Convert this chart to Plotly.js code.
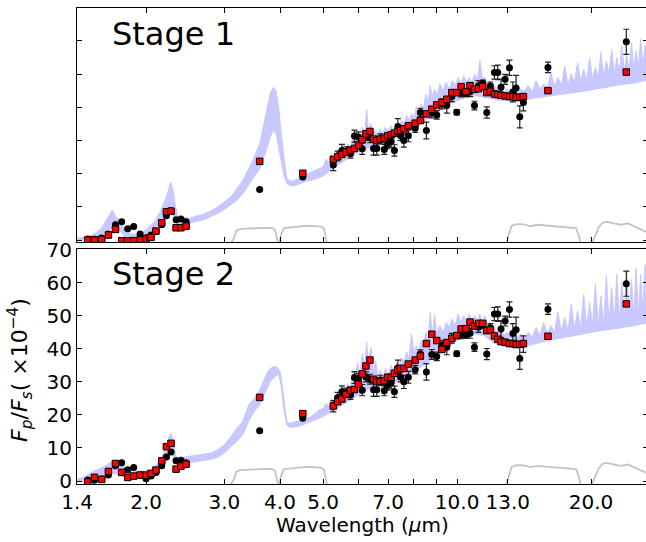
<!DOCTYPE html>
<html>
<head>
<meta charset="utf-8">
<script src="https://cdn.plot.ly/plotly-3.0.1.min.js"></script>
<style>html,body{margin:0;padding:0;overflow:hidden;background:#fff}#chart{width:648px;height:542px}</style>
</head>
<body>
<div id="chart"></div>
<script>
// ---------- observed / binned points ----------
const wave = [1.479,1.531,1.590,1.646,1.707,1.763,1.819,1.876,1.939,2.000,2.052,2.105,2.169,2.222,2.276,2.336,2.396,2.460,
  3.6,4.5,
  5.27,5.39,5.51,5.63,5.76,5.88,6.00,6.12,6.24,6.37,6.49,6.60,6.72,6.86,6.98,7.11,7.23,7.36,7.46,7.59,7.77,8.05,8.27,8.53,8.77,9.00,9.24,9.48,9.73,9.98,10.21,10.47,10.69,10.94,11.17,11.42,11.66,11.88,12.13,12.34,12.55,12.82,13.11,13.34,13.57,13.83,14.09,
  16.0,24.0];
const observed = [0.3,0.2,0.6,1.8,4.6,5.5,3.4,4.1,1.8,0.7,1.5,2.6,4.6,7.3,8.8,6.1,6.3,5.5,
  15.2,19.0,
  22.6,25.3,27.0,26.8,26.0,31.3,31.0,27.5,31.5,30.8,27.6,27.6,30.5,27.3,29.0,29.7,27.0,34.2,31.5,30.0,31.4,33.7,38.4,33.0,38.3,37.7,41.0,40.5,43.2,38.5,44.3,44.2,44.7,40.5,46.5,47.2,38.4,46.4,50.5,50.5,46.0,48.4,51.9,44.6,45.8,37.1,41.4,
  52.0,59.7];
const observedErr = [0.2,0.2,0.2,0.2,0.2,0.2,0.2,0.2,0.2,0.2,0.2,0.2,0.2,0.2,0.2,0.2,0.2,0.2,
  0.3,0.3,
  1.7,1.5,1.8,1.3,1.3,1.8,1.6,1.7,1.5,1.5,2.0,2.0,1.5,1.5,1.5,1.8,1.7,2.4,1.5,2.0,1.8,1.3,1.3,2.5,1.5,1.3,1.5,2.3,1.5,0.8,1.2,1.0,1.5,1.3,1.5,1.0,1.7,1.2,2.0,2.2,2.5,1.5,2.3,3.0,3.8,3.3,2.5,
  1.6,3.8];
const stage1Binned = [0,0,0.2,1.5,3.2,-0.2,-0.3,-0.2,0.0,0.3,0.8,2.7,5.2,8.5,8.7,3.7,3.7,4.2,
  23.7,20.1,
  24.3,25.1,25.8,26.5,27.1,27.6,28.6,30.2,32.0,32.7,30.4,29.9,30.4,30.7,31.4,31.7,32.2,32.7,33.0,33.5,34.4,35.2,36.0,38.0,39.4,40.7,41.4,42.4,44.4,44.4,46.2,44.7,46.5,45.4,45.6,46.2,44.4,44.8,44.0,43.8,43.6,43.4,43.2,43.2,43.0,43.0,43.2,
  45.0,50.6];
const stage2Binned = [-0.3,1.1,0.5,2.9,5.3,2.6,1.1,1.5,1.8,1.8,2.3,3.3,6.1,10.4,11.4,3.6,4.5,5.1,
  25.3,20.4,
  22.7,24.0,24.8,26.2,27.5,27.7,29.3,32.4,34.8,36.6,30.8,30.1,30.1,30.4,31.4,31.4,32.6,33.6,34.0,34.1,35.4,36.6,37.8,41.6,44.4,42.5,39.8,41.9,43.2,44.0,46.0,46.1,48.1,46.9,47.7,47.7,45.5,45.7,43.9,42.9,42.2,42.0,41.6,41.6,41.3,41.4,41.6,
  43.8,53.6];

// ---------- model spectrum envelopes ----------
const nirWave = [1.40,1.45,1.50,1.55,1.59,1.62,1.65,1.68,1.71,1.74,1.77,1.80,1.85,1.90,1.95,2.00,2.05,2.10,2.15,2.20,2.24,2.27,2.30,2.33,2.36,2.40,2.45,2.50,2.60,2.70,2.80,2.90,3.00,3.10,3.20,3.30,3.40,3.50,3.60,3.68,3.75,3.80,3.86,3.92,3.97,4.02,4.08,4.14,4.20,4.30,4.40,4.50,4.60,4.70,4.80,4.90];
const s1NirLow = [0,0,0.2,0.6,1.5,2.5,3.2,3.5,3.5,3.0,2.0,0.8,0.3,0.5,1.0,1.6,2.8,3.8,5.0,6.5,8.0,9.0,8.0,5.5,4.0,4.5,4.8,5.0,5.6,6.2,7.0,8.0,9.2,10.5,12.0,14.0,16.5,19.0,21.5,25.0,28.0,31.0,33.0,32.0,28.0,24.0,19.5,17.0,16.5,16.3,16.8,17.5,17.8,18.0,18.3,18.8];
const s1NirHigh = [0.6,0.8,1.3,2.2,3.8,5.5,7.5,9.0,7.0,6.0,4.5,2.8,1.8,1.8,2.3,3.0,4.5,6.0,8.5,11.5,14.5,17.5,15.0,10.0,7.0,6.5,6.8,6.5,7.3,7.8,8.8,10.0,11.5,13.0,15.5,18.0,21.5,25.0,29.0,35.0,41.0,44.0,46.0,45.0,40.0,33.0,25.0,19.0,17.8,17.8,18.5,19.3,20.0,20.5,21.0,21.5];
const s2NirLow = [0,0,0.3,0.7,1.0,1.5,2.0,2.3,2.2,1.8,1.4,1.0,0.8,0.8,0.9,1.2,1.8,2.5,3.5,5.0,7.0,9.0,7.5,5.5,4.5,5.0,5.3,5.5,5.8,6.2,6.6,7.2,8.5,10.4,12.0,14.0,18.0,21.0,23.0,26.0,28.5,30.0,31.0,32.0,32.5,29.0,21.5,17.0,16.3,16.3,16.5,17.0,17.5,18.0,18.6,19.0];
const s2NirHigh = [0.5,1.2,2.5,3.3,4.0,4.6,5.3,6.0,5.8,5.5,4.8,3.5,3.0,3.0,3.0,3.0,3.6,4.5,6.5,9.0,12.5,14.5,12.5,8.0,7.0,7.0,7.3,7.5,7.8,8.2,8.5,9.5,11.0,13.4,16.0,18.0,23.0,25.0,27.5,30.5,33.0,34.0,34.6,34.6,34.0,32.0,24.0,18.0,17.5,17.8,18.0,18.5,19.0,19.5,20.5,21.5];

const midWave = [5.00,5.08,5.15,5.22,5.30,5.38,5.45,5.52,5.60,5.68,5.75,5.82,5.90,5.97,
  6.05,6.12,6.20,6.26,6.32,6.40,6.48,6.56,6.64,6.72,6.80,6.90,
  7.00,7.10,7.20,7.30,7.40,7.50,7.60,7.70,7.80,7.90,8.00,8.10,8.20,8.30,8.40,8.50,8.60,8.70,8.80,8.90,
  9.00,9.15,9.30,9.45,9.60,9.75,9.90,10.05,10.20,10.35,10.50,10.65,10.80,10.95,11.10,11.25,11.40,11.55,11.70,11.85,
  12.00,12.15,12.35,12.55,12.75,12.95,13.15,13.40,13.65,13.90,
  14.15,14.45,14.75,15.05,15.35,15.65,15.95,16.25,16.55,16.85,17.15,17.45,17.75,18.05,18.35,18.65,18.95,19.25,19.55,19.85,
  20.15,20.45,20.75,21.05,21.35,21.65,21.95,22.25,22.55,22.85,23.15,23.45,23.75,24.05,24.35,24.65,24.95,25.25,25.55,25.85,26.15,26.45,26.90];
const s1MidHigh = [22.0,24.5,23.0,26.0,24.5,27.0,25.5,28.0,26.5,29.0,27.5,30.5,29.0,32.0,
  30.0,34.0,32.0,39.5,33.0,35.0,31.5,33.0,31.5,33.5,32.0,34.0,
  32.5,34.5,33.0,35.0,34.0,36.0,35.0,37.5,36.0,38.0,37.0,40.0,38.0,41.0,39.5,44.0,41.5,46.5,43.0,45.5,
  43.5,47.0,45.0,47.5,45.5,48.0,46.5,49.0,47.0,49.5,47.5,49.0,47.5,50.0,48.0,54.0,48.5,49.0,47.0,47.5,
  45.5,46.5,45.0,46.0,44.5,45.5,44.5,45.5,44.5,45.5,
  44.8,46.5,44.6,48.0,45.5,47.0,45.8,50.5,46.2,49.0,46.5,52.5,46.8,50.0,47.5,53.5,47.8,51.5,48.0,55.0,
  48.5,52.0,49.0,56.5,49.2,54.0,49.8,57.5,50.0,55.0,50.5,58.5,50.8,56.0,51.0,59.5,51.5,57.0,52.0,60.5,52.5,58.5,54.0];
const s2MidHigh = [22.0,23.5,22.5,25.0,23.5,26.0,25.0,27.5,26.0,29.5,27.5,33.0,29.5,36.0,
  32.0,38.5,34.5,42.0,36.0,40.5,33.0,36.5,31.0,33.5,31.0,34.0,
  32.0,35.0,33.5,36.0,34.5,37.5,36.0,39.0,37.0,44.5,38.5,41.0,39.0,42.5,40.5,45.0,42.0,51.0,44.0,50.5,
  44.5,47.0,45.0,48.0,46.5,49.0,47.0,50.5,48.0,50.0,48.0,50.5,48.0,50.0,48.5,50.5,48.0,50.0,47.0,48.0,
  45.5,46.0,44.5,45.5,44.0,45.0,43.5,44.5,43.5,44.5,
  43.5,45.0,43.6,46.5,44.0,48.0,44.5,47.0,45.0,51.0,45.2,49.5,45.5,53.5,46.0,51.5,46.3,56.5,46.5,54.0,
  47.0,59.5,47.2,56.0,47.5,62.0,47.8,58.5,48.0,62.5,48.5,60.0,48.8,63.5,49.0,61.0,49.5,64.5,50.0,62.5,50.5,65.5,51.5];
const lowWave = [5.0,5.3,5.6,6.0,6.2,6.4,6.8,7.2,7.6,8.0,8.5,9.0,9.5,10.0,10.5,11.0,11.5,12.0,12.5,13.0,14.0,15.0,16.0,17.5,19.0,21.0,23.0,25.0,27.0];
const s1MidLow = [19.3,22.0,24.0,26.5,27.5,28.0,29.0,30.5,32.0,33.5,36.0,38.5,40.5,42.0,43.0,43.5,43.0,42.5,42.0,42.0,42.0,42.8,43.3,44.2,44.7,45.7,46.7,47.3,48.3];
const s2MidLow = [19.5,21.5,23.5,26.0,27.5,28.0,28.5,29.5,31.5,33.0,35.5,38.0,40.5,42.5,44.0,44.5,44.0,42.0,41.0,40.5,40.5,41.5,42.5,43.5,44.5,45.5,46.2,47.0,48.0];

// ---------- filter transmission curves ----------
const irac1Wave = [3.10,3.15,3.19,3.25,3.35,3.45,3.55,3.65,3.75,3.85,3.90,3.93,3.96];
const irac1Resp = [-1,0.5,2.8,3.3,3.4,3.5,3.6,3.6,3.7,3.6,3.0,1.0,-1];
const irac2Wave = [3.98,4.02,4.08,4.20,4.40,4.60,4.80,4.95,5.02,5.07,5.10];
const irac2Resp = [-1,1.5,3.6,3.8,4.2,4.3,4.2,4.0,3.5,1.0,-1];
const bluePuWave = [12.9,13.05,13.25,13.5,14.0,14.6,15.2,16.0,17.0,18.0,18.5,18.75,18.95];
const bluePuResp = [-1,1.5,4.2,4.7,4.8,4.2,4.6,4.3,4.0,3.9,3.6,1.5,-1];
const redPuWave = [20.1,20.4,20.8,21.2,21.7,22.5,23.3,24.2,25.0,25.8,26.9];
const redPuResp = [-1,1.0,3.8,5.2,5.5,5.0,4.6,5.0,4.1,3.2,2.2];

// ---------- axis ticks ----------
const xTickVals = [1.4,2,3,4,5,6,7,8,9,10,13,20];
const xTickText = ['1.4','2.0','3.0','4.0','5.0','','7.0','','','10.0','13.0','20.0'];
const yTickVals = [0,10,20,30,40,50,60,70];

const lavender = '#c8c8ff';
const filterGrey = '#c4c4c4';

function panelTraces(xa, ya, nirLow, nirHigh, midLow, midHigh, binned){
  const t = [];
  t.push({x: nirWave.concat(lowWave), y: nirLow.concat(midLow), xaxis: xa, yaxis: ya, type:'scatter', mode:'lines',
          line:{color:lavender, width:1}, hoverinfo:'skip'});
  t.push({x: nirWave.concat(midWave), y: nirHigh.concat(midHigh), xaxis: xa, yaxis: ya, type:'scatter', mode:'lines',
          fill:'tonexty', fillcolor:lavender, line:{color:lavender, width:1}, hoverinfo:'skip'});
  [[irac1Wave,irac1Resp],[irac2Wave,irac2Resp],[bluePuWave,bluePuResp],[redPuWave,redPuResp]].forEach(f=>{
    t.push({x:f[0], y:f[1], xaxis:xa, yaxis:ya, type:'scatter', mode:'lines', line:{color:filterGrey, width:1.8}, hoverinfo:'skip'});
  });
  t.push({x: wave, y: observed, xaxis: xa, yaxis: ya, type:'scatter', mode:'markers',
          marker:{symbol:'circle', size:7, color:'#000'},
          error_y:{type:'data', array: observedErr, visible:true, color:'#222', thickness:1.2, width:3}});
  t.push({x: wave, y: binned, xaxis: xa, yaxis: ya, type:'scatter', mode:'markers',
          marker:{symbol:'square', size:6.5, color:'#ff0000', line:{color:'#000', width:1}}});
  return t;
}

const data = [].concat(
  panelTraces('x2','y2', s1NirLow, s1NirHigh, s1MidLow, s1MidHigh, stage1Binned),
  panelTraces('x','y', s2NirLow, s2NirHigh, s2MidLow, s2MidHigh, stage2Binned)
);

const xRange = [Math.log10(1.399), Math.log10(1.399) + 571/445];
const axisCommon = {ticks:'inside', ticklen:5, tickwidth:1, tickcolor:'#000', showline:true, linecolor:'#000',
  linewidth:1, mirror:'ticks', showgrid:false, zeroline:false};

const layout = {
  width: 648, height: 542,
  margin: {l:77, r:0, t:8, b:58},
  paper_bgcolor:'#fff', plot_bgcolor:'#fff',
  showlegend:false,
  font:{family:'DejaVu Sans', size:20, color:'#000'},
  xaxis: Object.assign({type:'log', range:xRange, domain:[0,1], anchor:'y', tickmode:'array', tickvals:xTickVals, ticktext:xTickText,
    tickfont:{size:20, family:'DejaVu Sans'}}, axisCommon),
  yaxis: Object.assign({domain:[0,0.4937], range:[-0.9,70.2], anchor:'x', tickmode:'array', tickvals:yTickVals,
    tickfont:{size:20, family:'DejaVu Sans'}}, axisCommon),
  xaxis2: Object.assign({type:'log', range:xRange, domain:[0,1], anchor:'y2', matches:'x', tickmode:'array', tickvals:xTickVals,
    showticklabels:false}, axisCommon),
  yaxis2: Object.assign({domain:[0.5084,1], range:[-0.6,69.9], anchor:'x2', tickmode:'array', tickvals:[0,10,20,30,40,50,60],
    showticklabels:false}, axisCommon),
  annotations:[
    {text:'Stage 1', xref:'paper', yref:'paper', x:0.057, y:0.9454, xanchor:'left', yanchor:'middle', showarrow:false,
     font:{size:32, family:'DejaVu Sans'}},
    {text:'Stage 2', xref:'paper', yref:'paper', x:0.057, y:0.4412, xanchor:'left', yanchor:'middle', showarrow:false,
     font:{size:32, family:'DejaVu Sans'}},
    {text:'<i>F</i><sub><i>p</i></sub>/<i>F</i><sub><i>s</i></sub>( ×10<sup>−4</sup>)', xref:'paper', yref:'paper',
     x:-0.1, y:0.2395, xanchor:'center', yanchor:'middle', textangle:-90, showarrow:false,
     font:{size:22, family:'DejaVu Sans'}},
    {text:'Wavelength (<i>μ</i>m)', xref:'paper', yref:'paper', x:0.5, y:-0.086, xanchor:'center', yanchor:'middle',
     showarrow:false, font:{size:20, family:'DejaVu Sans'}}
  ]
};

Plotly.newPlot('chart', data, layout, {staticPlot:true, displayModeBar:false});
</script>
</body>
</html>
